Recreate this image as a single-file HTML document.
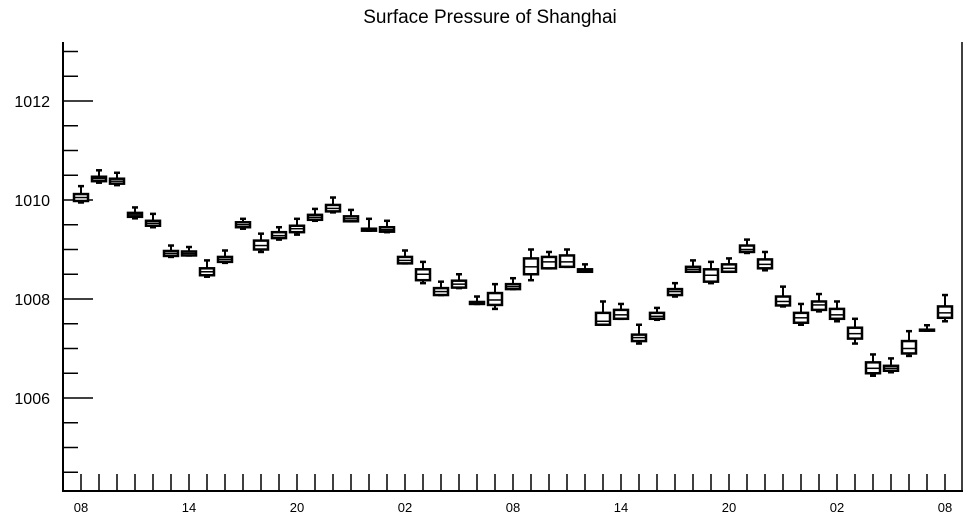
<!DOCTYPE html>
<html><head><meta charset="utf-8"><style>
body{margin:0;background:#fff;}
svg text{font-family:"Liberation Sans",Arial,sans-serif;fill:#000;}
</style></head><body>
<svg id="chart" width="968" height="520" xmlns="http://www.w3.org/2000/svg">
<text x="490" y="23" font-size="19" text-anchor="middle">Surface Pressure of Shanghai</text>
<g id="axes"></g>
<g id="boxes"></g>
</svg>
<script>
const medians=[1010.05,1010.43,1010.38,1009.7,1009.53,1008.92,1008.92,1008.55,1008.8,1009.5,1009.08,1009.28,1009.42,1009.65,1009.83,1009.62,1009.4,1009.4,1008.78,1008.5,1008.15,1008.3,1007.92,1007.98,1008.25,1008.65,1008.75,1008.75,1008.58,1007.55,1007.68,1007.22,1007.65,1008.15,1008.6,1008.48,1008.62,1009.0,1008.7,1007.95,1007.62,1007.88,1007.68,1007.3,1006.6,1006.6,1007.0,1007.37,1007.72];
const q1=[1009.98,1010.38,1010.33,1009.66,1009.48,1008.87,1008.88,1008.48,1008.75,1009.45,1009.0,1009.23,1009.35,1009.6,1009.77,1009.57,1009.38,1009.36,1008.72,1008.38,1008.08,1008.23,1007.9,1007.88,1008.2,1008.5,1008.62,1008.65,1008.55,1007.48,1007.6,1007.15,1007.6,1008.08,1008.55,1008.35,1008.55,1008.95,1008.62,1007.87,1007.52,1007.78,1007.6,1007.2,1006.5,1006.55,1006.9,1007.36,1007.62];
const q3=[1010.12,1010.47,1010.43,1009.74,1009.58,1008.97,1008.96,1008.62,1008.85,1009.55,1009.18,1009.35,1009.48,1009.7,1009.9,1009.67,1009.42,1009.45,1008.85,1008.6,1008.22,1008.37,1007.94,1008.12,1008.3,1008.82,1008.85,1008.88,1008.6,1007.72,1007.78,1007.28,1007.72,1008.2,1008.65,1008.6,1008.7,1009.08,1008.8,1008.05,1007.72,1007.95,1007.8,1007.42,1006.72,1006.65,1007.15,1007.38,1007.85];
const wlo=[1009.95,1010.35,1010.3,1009.63,1009.45,1008.85,1008.88,1008.45,1008.73,1009.42,1008.95,1009.2,1009.3,1009.58,1009.75,1009.57,1009.38,1009.35,1008.72,1008.32,1008.08,1008.22,1007.9,1007.8,1008.2,1008.38,1008.62,1008.65,1008.55,1007.48,1007.6,1007.1,1007.58,1008.05,1008.55,1008.32,1008.55,1008.93,1008.58,1007.85,1007.48,1007.75,1007.55,1007.1,1006.45,1006.52,1006.85,1007.36,1007.55];
const whi=[1010.28,1010.6,1010.55,1009.85,1009.72,1009.08,1009.05,1008.78,1008.98,1009.62,1009.32,1009.45,1009.62,1009.82,1010.05,1009.8,1009.62,1009.58,1008.98,1008.75,1008.35,1008.5,1008.05,1008.3,1008.42,1009.0,1008.95,1009.0,1008.7,1007.95,1007.9,1007.48,1007.82,1008.32,1008.78,1008.75,1008.82,1009.2,1008.95,1008.25,1007.9,1008.1,1007.95,1007.6,1006.88,1006.8,1007.35,1007.47,1008.08];
const xTickLabels=["08","14","20","02","08","14","20","02","08"];
const yTickLabels=[1006,1008,1010,1012];

const NS="http://www.w3.org/2000/svg";
const L=63,R=962,T=42,B=491;
const yScale=v=>200-(v-1010)*49.5;
const xScale=i=>81+18*i;
const axesG=document.getElementById('axes'),boxesG=document.getElementById('boxes');
function mk(tag,attrs,parent){const e=document.createElementNS(NS,tag);for(const k in attrs)e.setAttribute(k,attrs[k]);parent.appendChild(e);return e;}
let el;
el=mk('line',{x1:L,y1:T,x2:L,y2:B+1,stroke:'#000','stroke-width':2},axesG);


el=mk('line',{x1:L-1,y1:B,x2:R+1,y2:B,stroke:'#000','stroke-width':2},axesG);


el=mk('line',{x1:R,y1:T,x2:R,y2:B,stroke:'#000','stroke-width':1.5},axesG);


for(let v=1004.5;v<=1013.01;v+=0.5){
  const y=yScale(v); if(y<T||y>B)continue;
  const major=Math.abs(v-Math.round(v))<1e-6&&Math.round(v)%2===0;
  el=mk('line',{x1:L,y1:y,x2:L+(major?30:15),y2:y,stroke:'#000','stroke-width':1.5},axesG);
  
  
}
yTickLabels.forEach(v=>{
  const t=mk('text',{x:50,y:yScale(v)+6,'font-size':16,'text-anchor':'end'},axesG);
  t.textContent=v;
  
  
});
for(let i=0;i<medians.length;i++){
  el=mk('line',{x1:xScale(i),y1:B,x2:xScale(i),y2:B-17,stroke:'#000','stroke-width':1.5},axesG);
  
  
}
xTickLabels.forEach((l,k)=>{
  const t=mk('text',{x:xScale(k*6),y:512,'font-size':13,'text-anchor':'middle'},axesG);
  t.textContent=l;
  
  
});
medians.forEach((m,i)=>{
  const x=xScale(i);
  const g=mk('g',{},boxesG);
  
  
  mk('line',{x1:x,y1:yScale(whi[i]),x2:x,y2:yScale(wlo[i]),stroke:'#000','stroke-width':2},g);
  mk('line',{x1:x-3,y1:yScale(whi[i]),x2:x+3,y2:yScale(whi[i]),stroke:'#000','stroke-width':2.5},g);
  mk('line',{x1:x-3,y1:yScale(wlo[i]),x2:x+3,y2:yScale(wlo[i]),stroke:'#000','stroke-width':2.5},g);
  const yt=yScale(q3[i]),yb=yScale(q1[i]);
  mk('rect',{x:x-7,y:yt,width:14,height:Math.max(yb-yt,1),fill:'#fff',stroke:'#000','stroke-width':2.5},g);
  mk('line',{x1:x-7,y1:yScale(m),x2:x+7,y2:yScale(m),stroke:'#000','stroke-width':1.5},g);
});
</script>
</body></html>
